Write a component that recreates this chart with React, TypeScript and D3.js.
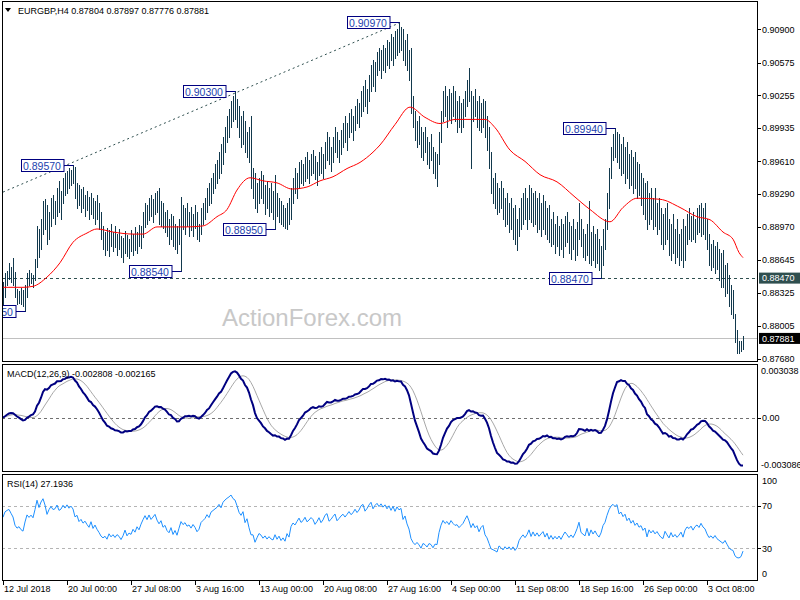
import React from "react";
import * as d3 from "d3";

// ---- data (prices in pips: 8957 = 0.8957) ----
const HIGH = [
  8843,8852,8854,8862,8858,8867,8853,8836,8834,8837,
  8835,8840,8852,8855,8852,8850,8866,8898,8895,8905,
  8922,8924,8918,8912,8925,8928,8922,8935,8942,8932,
  8945,8950,8952,8955,8953,8957,8956,8940,8938,8934,
  8936,8928,8932,8926,8930,8925,8922,8928,8920,8912,
  8898,8892,8896,8894,8900,8892,8898,8890,8895,8888,
  8886,8893,8889,8885,8894,8890,8897,8892,8899,8898,
  8912,8920,8918,8925,8928,8924,8930,8932,8935,8922,
  8920,8912,8914,8905,8910,8908,8900,8898,8905,8926,
  8918,8915,8920,8912,8916,8910,8918,8912,8900,8915,
  8920,8925,8935,8940,8945,8950,8958,8962,8970,8978,
  8985,8995,9005,9012,9020,9025,9030,9022,9015,9005,
  9010,9000,8990,8995,9005,8955,8950,8940,8945,8952,
  8948,8938,8942,8935,8940,8932,8948,8930,8925,8922,
  8918,8915,8920,8925,8935,8945,8955,8950,8960,8962,
  8958,8965,8970,8962,8968,8972,8966,8960,8970,8975,
  8968,8980,8990,8985,8975,8985,8995,8990,8982,8992,
  8998,9005,8998,9008,9012,9005,9015,9022,9018,9030,
  9035,9040,9032,9045,9055,9060,9058,9068,9072,9070,
  9075,9072,9080,9078,9085,9082,9088,9090,9097,9092,
  9090,9080,9085,9070,9072,9025,9010,9000,9005,8995,
  8990,8995,8985,8980,8988,8975,8970,8968,8990,9010,
  9030,9035,9025,9032,9028,9035,9030,9020,9025,9018,
  9022,9030,9040,9052,9030,9025,9032,9020,9025,9018,
  9022,9020,9005,8995,8970,8945,8950,8940,8935,8942,
  8935,8925,8930,8920,8925,8915,8918,8905,8915,8925,
  8930,8935,8925,8938,8935,8930,8932,8925,8930,8920,
  8928,8922,8915,8918,8905,8912,8900,8908,8898,8905,
  8900,8908,8912,8902,8898,8905,8895,8902,8920,8905,
  8895,8890,8900,8922,8892,8898,8890,8895,8885,8878,
  8895,8905,8930,8955,8975,8988,8994,8990,8988,8978,
  8985,8975,8980,8968,8972,8965,8970,8960,8958,8950,
  8945,8940,8942,8930,8935,8925,8935,8920,8925,8915,
  8910,8915,8920,8905,8900,8910,8895,8905,8890,8895,
  8905,8898,8910,8915,8908,8912,8905,8915,8918,8920,
  8915,8920,8905,8890,8880,8884,8878,8882,8875,8872,
  8874,8860,8862,8850,8840,8835,8812,8796,8786,8786,8790,
];
const LOW = [
  8821,8829,8840,8846,8843,8840,8829,8822,8823,8822,
  8820,8815,8829,8840,8842,8838,8845,8858,8868,8875,
  8890,8895,8880,8885,8898,8906,8900,8908,8912,8905,
  8920,8928,8930,8935,8938,8940,8925,8915,8918,8912,
  8915,8908,8914,8905,8910,8906,8900,8905,8895,8885,
  8875,8870,8874,8869,8878,8873,8877,8870,8875,8868,
  8863,8872,8869,8867,8873,8870,8874,8872,8878,8876,
  8887,8897,8900,8904,8908,8902,8910,8912,8900,8898,
  8896,8892,8888,8880,8885,8878,8875,8872,8880,8854,
  8895,8890,8898,8888,8894,8888,8896,8885,8883,8890,
  8900,8905,8912,8918,8920,8930,8935,8940,8945,8950,
  8958,8970,8980,8985,8995,9000,9002,8995,8985,8975,
  8978,8970,8965,8960,8935,8925,8915,8912,8920,8925,
  8920,8910,8915,8908,8912,8905,8895,8908,8902,8900,
  8898,8896,8895,8900,8905,8920,8930,8925,8935,8940,
  8938,8942,8945,8940,8948,8950,8944,8938,8948,8950,
  8945,8955,8962,8958,8952,8960,8970,8965,8960,8968,
  8975,8980,8972,8985,8990,8982,8992,8998,8995,9005,
  9010,9015,9008,9020,9030,9035,9030,9045,9050,9042,
  9050,9048,9055,9052,9060,9055,9062,9065,9068,9070,
  9060,9055,9050,9040,9008,8995,8982,8975,8978,8965,
  8962,8970,8958,8955,8962,8950,8945,8937,8958,8980,
  9000,9005,8995,9002,8998,9005,9000,8990,8995,8990,
  8995,9005,9015,9020,8955,9000,9005,8995,8992,8990,
  8995,8985,8972,8955,8930,8920,8915,8910,8912,8915,
  8905,8898,8900,8892,8895,8885,8880,8874,8888,8895,
  8900,8905,8895,8905,8902,8898,8900,8892,8895,8888,
  8895,8890,8885,8882,8878,8880,8872,8878,8870,8875,
  8868,8878,8882,8872,8866,8875,8865,8870,8885,8878,
  8868,8865,8870,8862,8860,8865,8858,8862,8855,8847,
  8860,8875,8895,8915,8945,8962,8965,8960,8955,8948,
  8950,8940,8945,8935,8938,8930,8935,8925,8928,8918,
  8910,8905,8895,8900,8905,8895,8898,8890,8895,8880,
  8875,8880,8885,8870,8865,8872,8862,8868,8860,8865,
  8858,8865,8880,8885,8883,8885,8882,8890,8892,8888,
  8890,8885,8875,8860,8855,8858,8852,8856,8845,8838,
  8838,8830,8832,8820,8812,8808,8785,8774,8774,8776,8778,
];
const CLOSE = [
  8835,8845,8848,8850,8846,8842,8832,8828,8830,8826,
  8824,8836,8848,8845,8849,8846,8862,8890,8880,8900,
  8915,8905,8888,8905,8918,8912,8915,8930,8920,8925,
  8940,8935,8948,8942,8950,8945,8930,8935,8922,8928,
  8920,8925,8918,8912,8925,8910,8918,8908,8900,8890,
  8885,8888,8880,8890,8882,8886,8879,8884,8880,8872,
  8878,8888,8875,8880,8877,8886,8880,8890,8884,8895,
  8905,8915,8908,8920,8912,8918,8925,8915,8908,8915,
  8902,8906,8895,8890,8900,8884,8892,8880,8895,8912,
  8905,8910,8902,8905,8898,8906,8900,8890,8895,8910,
  8915,8920,8930,8925,8940,8945,8950,8955,8965,8960,
  8980,8990,8998,9005,9015,9010,9008,9000,8990,8985,
  8995,8975,8985,8965,8945,8945,8920,8930,8940,8935,
  8925,8930,8920,8925,8918,8915,8925,8912,8918,8905,
  8910,8900,8915,8905,8930,8940,8935,8945,8955,8945,
  8950,8960,8950,8955,8962,8958,8948,8955,8965,8955,
  8962,8975,8980,8965,8970,8978,8985,8972,8978,8985,
  8990,8985,8992,9000,8995,9000,9010,9005,9012,9025,
  9030,9020,9028,9040,9050,9040,9052,9060,9055,9065,
  9060,9068,9062,9072,9065,9078,9070,9085,9080,9085,
  9065,9075,9058,9045,9015,9000,8990,8995,8985,8970,
  8980,8975,8965,8972,8968,8955,8962,8960,8985,9005,
  9020,9012,9018,9010,9022,9015,9010,9012,9005,9010,
  9015,9025,9035,9025,9010,9020,9010,9015,9000,9010,
  9015,8990,8980,8960,8935,8930,8925,8918,8930,8922,
  8912,8918,8908,8912,8900,8905,8890,8895,8908,8915,
  8920,8912,8918,8928,8910,8920,8908,8915,8905,8910,
  8915,8900,8908,8890,8898,8886,8892,8884,8890,8880,
  8888,8895,8888,8880,8885,8878,8885,8895,8910,8885,
  8880,8875,8892,8870,8885,8872,8880,8868,8860,8870,
  8890,8900,8925,8950,8970,8980,8975,8985,8962,8970,
  8958,8968,8950,8960,8945,8955,8940,8948,8935,8940,
  8925,8932,8900,8922,8910,8918,8905,8912,8900,8890,
  8885,8905,8892,8880,8895,8878,8885,8874,8880,8888,
  8870,8890,8900,8895,8902,8890,8900,8905,8898,8910,
  8900,8895,8880,8868,8872,8864,8870,8860,8855,8850,
  8845,8850,8838,8825,8818,8815,8790,8780,8778,8780,8788,
];
const MA_IDX = [0,10,15,22,28.5,35,42,47,55,65,70,77,85,92,100,107,112,117,123.5,130,137,144.5,152,158.5,165,172,178.5,185,188.5,196,203.5,211,218.5,226,233.5,241,246,253.5,261,268.5,277,285.5,293.5,303.5,310,317,328.5,338.5,347,353.5,360,365,368,370];
const MA_VAL = [8838,8838,8839,8848,8862,8882,8891,8895,8892,8890,8890,8897,8897,8897,8898,8907,8914,8933,8945,8942,8940,8934,8936,8942,8946,8954,8960,8970,8977,8997,9014,9004,8998,9002,9002,9002,8994,8972,8961,8948,8941,8927,8914,8902,8916,8925,8924,8916,8907,8904,8892,8885,8872,8867];
const TREND_IDX = [0, 198];
const TREND_VAL = [8931, 9096];
const PRICE_TICKS = [0.909, 0.90575, 0.90255, 0.89935, 0.8961, 0.8929, 0.8897, 0.88645, 0.88325, 0.88005, 0.8768];
const DATE_IDX = [0, 32, 64, 96, 128, 160, 192, 224, 256, 288, 320, 352];
const DATE_LABELS = ["12 Jul 2018", "20 Jul 00:00", "27 Jul 08:00", "3 Aug 16:00", "13 Aug 00:00", "20 Aug 08:00", "27 Aug 16:00", "4 Sep 00:00", "11 Sep 08:00", "18 Sep 16:00", "26 Sep 00:00", "3 Oct 08:00"];
const NOTE_IDX = [11, 35, 89, 116, 136, 198, 299, 306];
const NOTE_VAL = [0.8815, 0.8957, 0.8854, 0.903, 0.8895, 0.9097, 0.8847, 0.8994];
const SUPPORT = 0.8847;
const LAST = 0.87881;
const HEADER = "EURGBP,H4  0.87804 0.87897 0.87776 0.87881";
const MACD_TITLE = "MACD(12,26,9) -0.002808 -0.002165";
const RSI_TITLE = "RSI(14) 27.1936";
const MACD_MAX = 0.003038;
const MACD_MIN = -0.003086;
const RSI_LEVELS = [70, 30];
const RSI_LABELS = [100, 70, 30, 0];

const FONT = "'Liberation Sans', Arial, sans-serif";
const L = 2, R = 757;
const MAIN = { top: 2, bottom: 362 };
const MP = { top: 364, bottom: 471 };
const RP = { top: 474, bottom: 580 };
const BAR = "#12394d";

function ema(a: number[], n: number) {
  const k = 2 / (n + 1);
  const out: number[] = [];
  a.forEach((v, i) => out.push(i === 0 ? v : v * k + out[i - 1] * (1 - k)));
  return out;
}

export default function App() {
  const n = CLOSE.length;
  const x = d3.scaleLinear().domain([0, n - 1]).range([3, 743]);
  const y = d3.scaleLinear().domain([0.8768, 0.909]).range([359, 29.3]);
  const ym = d3.scaleLinear().domain([MACD_MIN, MACD_MAX]).range([MP.bottom - 1, MP.top + 2]);
  const yr = d3.scaleLinear().domain([0, 100]).range([RP.bottom, RP.top]);
  const px = (i: number) => Math.round(x(i)) + 0.5;

  const closes = CLOSE.map((v) => v / 10000);
  const e12 = ema(closes, 12), e26 = ema(closes, 26);
  const macd = closes.map((_, i) => e12[i] - e26[i]);
  const signal = macd.map((_, i) => {
    const s = macd.slice(Math.max(0, i - 8), i + 1);
    return d3.mean(s) as number;
  });
  // RSI(14), Wilder smoothing seeded with the average of the first 14 changes
  const diffs = closes.map((v, i) => (i === 0 ? 0 : v - closes[i - 1]));
  let ag = d3.mean(diffs.slice(1, 15).map((d) => Math.max(d, 0))) as number;
  let al = d3.mean(diffs.slice(1, 15).map((d) => Math.max(-d, 0))) as number;
  const rsi: number[] = [100 - 100 / (1 + ag / al)];
  for (let i = 1; i < n; i++) {
    const g = Math.max(diffs[i], 0), l = Math.max(-diffs[i], 0);
    ag = (ag * 13 + g) / 14;
    al = (al * 13 + l) / 14;
    rsi.push(al === 0 ? 100 : 100 - 100 / (1 + ag / al));
  }

  const maLine = d3.line<number>().x((_, i) => x(MA_IDX[i])).y((v) => y(v / 10000)).curve(d3.curveMonotoneX)(MA_VAL) || "";
  const macdLine = d3.line<number>().x((_, i) => x(i)).y((v) => ym(v))(macd) || "";
  const sigLine = d3.line<number>().x((_, i) => x(i)).y((v) => ym(v))(signal) || "";
  const rsiLine = d3.line<number>().x((_, i) => x(i)).y((v) => yr(v))(rsi) || "";

  const clampLabel = (v: number, top: number, bottom: number) => Math.max(top + 7, Math.min(bottom - 6, v));

  return (
    <div style={{ position: "fixed", left: 0, top: 0, width: 800, height: 600, background: "#fff" }}>
      <svg width={800} height={600} style={{ display: "block", fontFamily: FONT }}>
        <defs>
          <clipPath id="cMain"><rect x={L} y={MAIN.top} width={R - L} height={MAIN.bottom - MAIN.top} /></clipPath>
          <clipPath id="cMacd"><rect x={L} y={MP.top} width={R - L} height={MP.bottom - MP.top} /></clipPath>
          <clipPath id="cRsi"><rect x={L} y={RP.top} width={R - L} height={RP.bottom - RP.top} /></clipPath>
        </defs>
        <rect width={800} height={600} fill="#fff" />

        {/* main panel */}
        <g clipPath="url(#cMain)">
          <text x={222} y={326} fontSize={24} fill="#c8c8c8">ActionForex.com</text>
          <line x1={L} x2={R} y1={Math.round(y(LAST)) + 0.5} y2={Math.round(y(LAST)) + 0.5} stroke="#c0c0c0" />
          <line x1={L} x2={R} y1={Math.round(y(SUPPORT)) + 0.5} y2={Math.round(y(SUPPORT)) + 0.5} stroke="#2f4f4f" strokeDasharray="3,3" />
          <line x1={x(TREND_IDX[0])} y1={y(TREND_VAL[0] / 10000)} x2={x(TREND_IDX[1])} y2={y(TREND_VAL[1] / 10000)} stroke="#2f4f4f" strokeDasharray="2,3" />
          {HIGH.map((h, i) => (
            <line key={i} x1={px(i)} x2={px(i)} y1={Math.round(y(h / 10000))} y2={Math.round(y(LOW[i] / 10000)) + 1} stroke={BAR} strokeWidth={1} />
          ))}
          <path d={maLine} fill="none" stroke="#ff0000" strokeWidth={1} />
          {NOTE_IDX.map((idx, k) => {
            const bx = px(idx);
            const yy = Math.round(y(NOTE_VAL[k])) + 0.5;
            const right = bx - 9.5;
            const w = 42.5;
            return (
              <g key={k}>
                <line x1={right} x2={bx} y1={yy} y2={yy} stroke="#000080" />
                <rect x={right - w} y={yy - 6} width={w} height={12} fill="#fff" stroke="#000080" />
                <text x={right - w + 1.5} y={yy + 4} fontSize={10.5} fill="#1c3fae">{NOTE_VAL[k].toFixed(5)}</text>
              </g>
            );
          })}
        </g>
        <rect x={L + 0.5} y={MAIN.top - 0.5} width={R - L} height={MAIN.bottom - MAIN.top} fill="none" stroke="#000" />
        <polygon points="5,8 11,8 8,12" fill="#000" />
        <text x={18} y={14} fontSize={9} fill="#000">{HEADER}</text>

        {/* price axis */}
        {PRICE_TICKS.map((t, k) => (
          <g key={k}>
            <line x1={R + 1} x2={R + 4} y1={Math.round(y(t)) + 0.5} y2={Math.round(y(t)) + 0.5} stroke="#000" />
            <text x={762} y={y(t) + 3.3} fontSize={9} fill="#000">{t.toFixed(5)}</text>
          </g>
        ))}
        <rect x={759} y={y(SUPPORT) - 5.5} width={41} height={11} fill="#2f4f4f" />
        <text x={762} y={y(SUPPORT) + 3.3} fontSize={9} fill="#fff">{SUPPORT.toFixed(5)}</text>
        <rect x={759} y={y(LAST) - 5.5} width={41} height={11} fill="#000" />
        <text x={762} y={y(LAST) + 3.3} fontSize={9} fill="#fff">{LAST.toFixed(5)}</text>

        {/* MACD panel */}
        <g clipPath="url(#cMacd)">
          <line x1={L} x2={R} y1={Math.round(ym(0)) + 0.5} y2={Math.round(ym(0)) + 0.5} stroke="#707070" strokeDasharray="3,3" />
          <path d={sigLine} fill="none" stroke="#a8a8a8" strokeWidth={1} />
          <path d={macdLine} fill="none" stroke="#000080" strokeWidth={2} />
        </g>
        <rect x={L + 0.5} y={MP.top + 0.5} width={R - L} height={MP.bottom - MP.top} fill="none" stroke="#000" />
        <text x={7} y={377} fontSize={9} fill="#000">{MACD_TITLE}</text>
        <text x={761} y={clampLabel(ym(MACD_MAX), MP.top, MP.bottom) + 3.3} fontSize={9}>{MACD_MAX.toFixed(6)}</text>
        <line x1={R + 1} x2={R + 4} y1={Math.round(ym(0)) + 0.5} y2={Math.round(ym(0)) + 0.5} stroke="#000" />
        <text x={762} y={ym(0) + 3.3} fontSize={9}>0.00</text>
        <text x={761} y={clampLabel(ym(MACD_MIN), MP.top, MP.bottom) + 3.3} fontSize={9}>{MACD_MIN.toFixed(6)}</text>

        {/* RSI panel */}
        <g clipPath="url(#cRsi)">
          {RSI_LEVELS.map((lv) => (
            <line key={lv} x1={L} x2={R} y1={Math.round(yr(lv)) + 0.5} y2={Math.round(yr(lv)) + 0.5} stroke="#b4b4b4" strokeDasharray="3,3" />
          ))}
          <path d={rsiLine} fill="none" stroke="#1e90ff" strokeWidth={1} />
        </g>
        <rect x={L + 0.5} y={RP.top + 0.5} width={R - L} height={RP.bottom - RP.top} fill="none" stroke="#000" />
        <text x={7} y={487} fontSize={9} fill="#000">{RSI_TITLE}</text>
        {RSI_LABELS.map((lv) => (
          <g key={lv}>
            {lv !== 0 && lv !== 100 && (
              <line x1={R + 1} x2={R + 4} y1={Math.round(yr(lv)) + 0.5} y2={Math.round(yr(lv)) + 0.5} stroke="#000" />
            )}
            <text x={762} y={clampLabel(yr(lv), RP.top, RP.bottom) + 3.3} fontSize={9}>{lv}</text>
          </g>
        ))}

        {/* time axis */}
        {DATE_IDX.map((idx, k) => (
          <g key={k}>
            <line x1={px(idx)} x2={px(idx)} y1={RP.bottom} y2={RP.bottom + 5} stroke="#000" />
            <text x={px(idx) + 0.5} y={592} fontSize={9} fill="#000">{DATE_LABELS[k]}</text>
          </g>
        ))}
      </svg>
    </div>
  );
}
